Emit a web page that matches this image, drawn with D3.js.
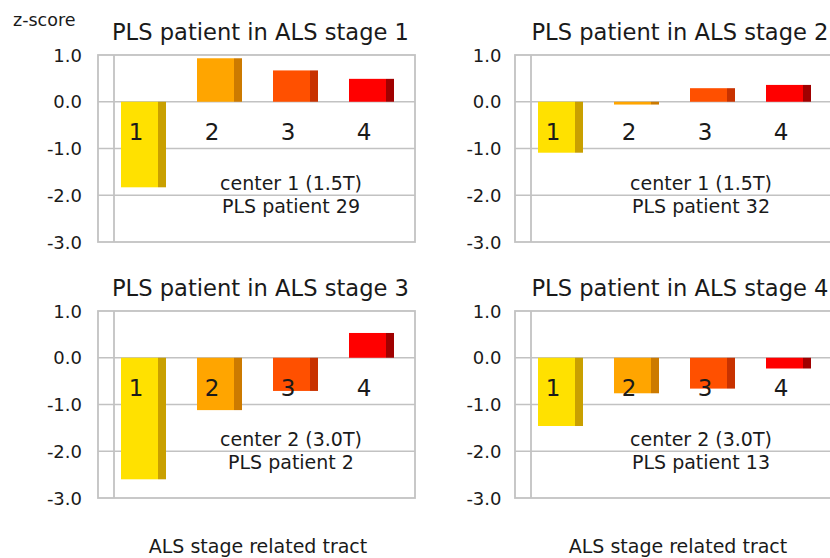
<!DOCTYPE html>
<html>
<head>
<meta charset="utf-8">
<script src="https://cdn.jsdelivr.net/npm/d3@7"></script>
<style>
  html, body { margin: 0; padding: 0; background: #fff; }
  svg { display: block; font-family: "DejaVu Sans", sans-serif; }
</style>
</head>
<body>
<svg id="chart" width="830" height="558"></svg>
<script>
// ---- data ----
const tracts = ["1", "2", "3", "4"];
const yTicks = [1, 0, -1, -2, -3];
const tickLabels = ["1.0", "0.0", "-1.0", "-2.0", "-3.0"];
const gridValues = [0, -1, -2];
const panelTitles = ["PLS patient in ALS stage 1", "PLS patient in ALS stage 2",
                     "PLS patient in ALS stage 3", "PLS patient in ALS stage 4"];
const centerLabels = ["center 1 (1.5T)", "center 1 (1.5T)", "center 2 (3.0T)", "center 2 (3.0T)"];
const patientLabels = ["PLS patient 29", "PLS patient 32", "PLS patient 2", "PLS patient 13"];
const stage1Values = [-1.83, 0.93, 0.67, 0.49];
const stage2Values = [-1.09, -0.06, 0.29, 0.36];
const stage3Values = [-2.60, -1.12, -0.71, 0.53];
const stage4Values = [-1.46, -0.76, -0.66, -0.23];
const yLabel = "z-score";
const xLabel = "ALS stage related tract";

const seriesValues = [stage1Values, stage2Values, stage3Values, stage4Values];
const frontColors = ["#ffe100", "#ffa500", "#ff5000", "#ff0000"];
const sideColors = ["#c9a000", "#cc7a00", "#c83200", "#a00000"];

// ---- layout ----
const svg = d3.select("#chart");
const boxW = 317, boxH = 187;
const colStep = 417, rowStep = 256;
const originX = 98, originY = 55;
const innerOffset = 16;
const step = 76, barFront = 37, barSide = 8, barOffset = 7;
const titleDx = [14, 16.5], tickGap = [16, 13.5], noteDx = [193, 186], xLabelDx = [160, 163];

const y = d3.scaleLinear().domain([-3, 1]).range([boxH, 0]);
const x = d3.scaleBand().domain(tracts).range([innerOffset, innerOffset + step * tracts.length]).padding(0);

const textColor = "#1a1a1a";
const gridColor = "#c2c2c2";

svg.append("text").attr("x", 13).attr("y", 26)
  .attr("font-size", 17.5).attr("fill", textColor).text(yLabel);

panelTitles.forEach((title, i) => {
  const col = i % 2, row = Math.floor(i / 2);
  const g = svg.append("g")
    .attr("transform", `translate(${originX + col * colStep},${originY + row * rowStep})`);
  const vals = seriesValues[i];

  // title
  g.append("text").attr("x", titleDx[col]).attr("y", -15.5)
    .attr("font-size", 22.6).attr("fill", textColor).text(title);

  // grid lines
  g.selectAll("line.grid").data(gridValues).join("line")
    .attr("class", "grid")
    .attr("x1", 0).attr("x2", boxW)
    .attr("y1", d => y(d)).attr("y2", d => y(d))
    .attr("stroke", gridColor).attr("stroke-width", 1.6);

  // box
  g.append("rect").attr("x", 0).attr("y", 0).attr("width", boxW).attr("height", boxH)
    .attr("fill", "none").attr("stroke", gridColor).attr("stroke-width", 1.8);
  g.append("line").attr("x1", innerOffset).attr("x2", innerOffset)
    .attr("y1", 0).attr("y2", boxH)
    .attr("stroke", gridColor).attr("stroke-width", 1.8);

  // y tick labels
  g.selectAll("text.tick").data(yTicks).join("text")
    .attr("class", "tick")
    .attr("x", -tickGap[col]).attr("y", d => y(d) + 6.5)
    .attr("text-anchor", "end").attr("font-size", 18).attr("fill", textColor)
    .text((d, k) => tickLabels[k]);

  // bars
  const bars = g.selectAll("g.bar").data(tracts).join("g").attr("class", "bar");
  bars.append("rect")
    .attr("x", d => x(d) + barOffset)
    .attr("y", (d, k) => y(Math.max(0, vals[k])))
    .attr("width", barFront)
    .attr("height", (d, k) => Math.abs(y(vals[k]) - y(0)))
    .attr("fill", (d, k) => frontColors[k]);
  bars.append("rect")
    .attr("x", d => x(d) + barOffset + barFront)
    .attr("y", (d, k) => y(Math.max(0, vals[k])))
    .attr("width", barSide)
    .attr("height", (d, k) => Math.abs(y(vals[k]) - y(0)))
    .attr("fill", (d, k) => sideColors[k]);

  // category labels
  g.selectAll("text.cat").data(tracts).join("text")
    .attr("class", "cat")
    .attr("x", d => x(d) + barOffset + 15)
    .attr("y", y(-0.64) + 8.4)
    .attr("text-anchor", "middle").attr("font-size", 23).attr("fill", textColor)
    .text(d => d);

  // annotation
  g.append("text").attr("x", noteDx[col]).attr("y", 135)
    .attr("text-anchor", "middle").attr("font-size", 19).attr("fill", textColor)
    .text(centerLabels[i]);
  g.append("text").attr("x", noteDx[col]).attr("y", 158)
    .attr("text-anchor", "middle").attr("font-size", 19).attr("fill", textColor)
    .text(patientLabels[i]);

  if (row === 1) {
    g.append("text").attr("x", xLabelDx[col]).attr("y", 553 - originY - rowStep)
      .attr("text-anchor", "middle").attr("font-size", 19).attr("fill", textColor)
      .text(xLabel);
  }
});
</script>
</body>
</html>
